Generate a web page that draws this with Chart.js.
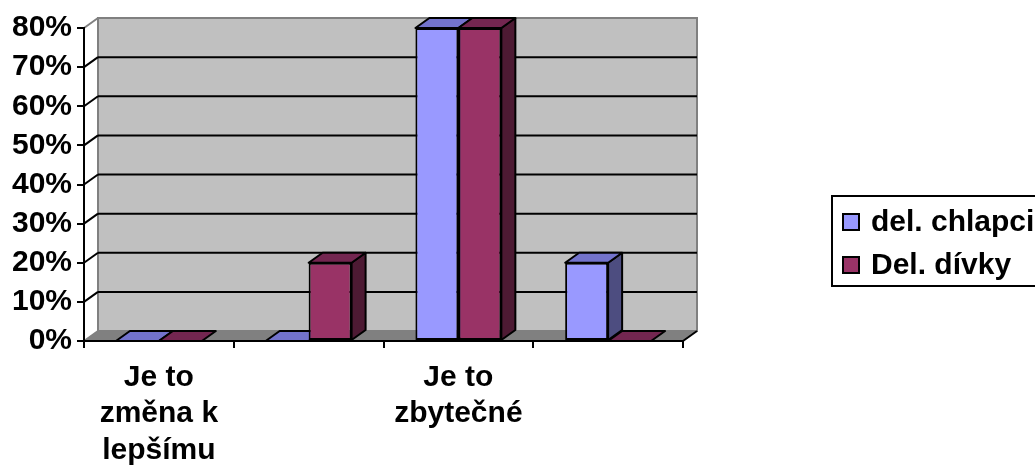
<!DOCTYPE html>
<html>
<head>
<meta charset="utf-8">
<script src="https://cdn.jsdelivr.net/npm/chart.js@4/dist/chart.umd.min.js"></script>
<style>
    html, body { margin: 0; background: #fff; }
    #wrap { width: 1035px; height: 468px; position: relative; }
</style>
</head>
<body>
<div id="wrap"><canvas id="chart"></canvas></div>
<script>
const categories = [['Je to', 'změna k', 'lepšímu'], '', ['Je to', 'zbytečné'], ''];
const seriesLabels = ['del. chlapci', 'Del. dívky'];
const boysValues = [0, 0, 80, 20];
const girlsValues = [0, 20, 80, 0];
const yTicks = [0, 10, 20, 30, 40, 50, 60, 70, 80];

const frontColors = ['#9999ff', '#993366'];
const topColors = ['#7373cc', '#732650'];
const sideColors = ['#4d4d80', '#4d1a33'];
const depth = { x: 14, y: 10 };
const boldFont = { family: '"Liberation Sans", Arial, sans-serif', size: 30, weight: 'bold' };

function path(ctx, points) {
    ctx.beginPath();
    points.forEach(([x, y], i) => (i ? ctx.lineTo(x, y) : ctx.moveTo(x, y)));
    ctx.closePath();
}

function line(ctx, x1, y1, x2, y2) {
    ctx.beginPath();
    ctx.moveTo(x1, y1);
    ctx.lineTo(x2, y2);
    ctx.stroke();
}

// back wall, floor and gridlines, drawn under the axes
const wallPlugin = {
    id: 'wall',
    beforeDraw(chart) {
        const { ctx, chartArea: a } = chart;
        const y = chart.scales.y;
        const dx = depth.x, dy = depth.y;
        ctx.save();
        ctx.fillStyle = '#c0c0c0';
        ctx.fillRect(a.left + dx, a.top - dy, a.right - a.left, a.bottom - a.top);
        ctx.fillStyle = '#808080';
        path(ctx, [[a.left, a.bottom], [a.right, a.bottom], [a.right + dx, a.bottom - dy], [a.left + dx, a.bottom - dy]]);
        ctx.fill();

        ctx.strokeStyle = '#808080';
        ctx.lineWidth = 2;
        ctx.strokeRect(a.left + dx, a.top - dy, a.right - a.left, a.bottom - a.top);
        line(ctx, a.left, a.top, a.left + dx, a.top - dy);
        line(ctx, a.left, a.bottom, a.left + dx, a.bottom - dy);

        ctx.strokeStyle = '#000';
        yTicks.slice(1, -1).forEach(v => {
            const py = y.getPixelForValue(v);
            line(ctx, a.left, py, a.left + dx, py - dy);
            line(ctx, a.left + dx, py - dy, a.right + dx, py - dy);
        });
        line(ctx, a.right, a.bottom, a.right + dx, a.bottom - dy);
        ctx.restore();
    },
};

// top and side faces of the columns
const columnPlugin = {
    id: 'columns',
    beforeDatasetsDraw(chart) {
        const ctx = chart.ctx;
        const dx = depth.x, dy = depth.y;
        ctx.save();
        ctx.strokeStyle = '#000';
        ctx.lineWidth = 2;
        ctx.lineJoin = 'round';
        categories.forEach((_, i) => {
            chart.data.datasets.forEach((ds, di) => {
                const bar = chart.getDatasetMeta(di).data[i];
                const { x, y, base, width } = bar.getProps(['x', 'y', 'base', 'width'], true);
                const l = x - width / 2, r = x + width / 2;
                if (base - y > 0) {
                    ctx.fillStyle = sideColors[di];
                    path(ctx, [[r, y], [r + dx, y - dy], [r + dx, base - dy], [r, base]]);
                    ctx.fill();
                    ctx.stroke();
                }
                ctx.fillStyle = topColors[di];
                path(ctx, [[l, y], [r, y], [r + dx, y - dy], [l + dx, y - dy]]);
                ctx.fill();
                ctx.stroke();
            });
        });
        ctx.restore();
    },
};

const legendPlugin = {
    id: 'boxLegend',
    afterDraw(chart) {
        const ctx = chart.ctx;
        const box = { left: 832, top: 196, width: 240, height: 90 };
        const rows = [222, 265];
        ctx.save();
        ctx.strokeStyle = '#000';
        ctx.lineWidth = 2;
        ctx.strokeRect(box.left, box.top, box.width, box.height);
        ctx.font = `${boldFont.weight} ${boldFont.size}px ${boldFont.family}`;
        ctx.textBaseline = 'middle';
        chart.data.datasets.forEach((ds, di) => {
            ctx.fillStyle = frontColors[di];
            ctx.fillRect(843, rows[di] - 8, 16, 16);
            ctx.strokeRect(843, rows[di] - 8, 16, 16);
            ctx.fillStyle = '#000';
            ctx.fillText(ds.label, 871, rows[di] + 1);
        });
        ctx.restore();
    },
};

new Chart(document.getElementById('chart'), {
    type: 'bar',
    data: {
        labels: categories,
        datasets: [
            { label: seriesLabels[0], data: boysValues, backgroundColor: frontColors[0] },
            { label: seriesLabels[1], data: girlsValues, backgroundColor: frontColors[1] },
        ],
    },
    options: {
        responsive: true,
        maintainAspectRatio: false,
        animation: false,
        layout: { padding: { top: 28, right: 352, left: 0, bottom: 0 } },
        datasets: {
            bar: {
                borderColor: '#000',
                borderWidth: 2,
                borderSkipped: false,
                categoryPercentage: 0.574,
                barPercentage: 1,
            },
        },
        plugins: { legend: { display: false }, tooltip: { enabled: false } },
        scales: {
            x: {
                grid: { drawOnChartArea: false, color: '#000', tickLength: 7, lineWidth: 2 },
                border: { color: '#000', width: 2 },
                ticks: { color: '#000', font: { ...boldFont, lineHeight: 1.22 }, padding: 11, maxRotation: 0, autoSkip: false },
                afterFit: scale => { scale.height = 127; },
            },
            y: {
                min: 0,
                max: 80,
                grid: { drawOnChartArea: false, color: '#000', tickLength: 7, lineWidth: 2 },
                border: { color: '#000', width: 2 },
                ticks: { color: '#000', font: boldFont, stepSize: 10, padding: 5, callback: v => v + '%' },
                afterFit: scale => { scale.width = 84; },
            },
        },
    },
    plugins: [wallPlugin, columnPlugin, legendPlugin],
});
</script>
</body>
</html>
